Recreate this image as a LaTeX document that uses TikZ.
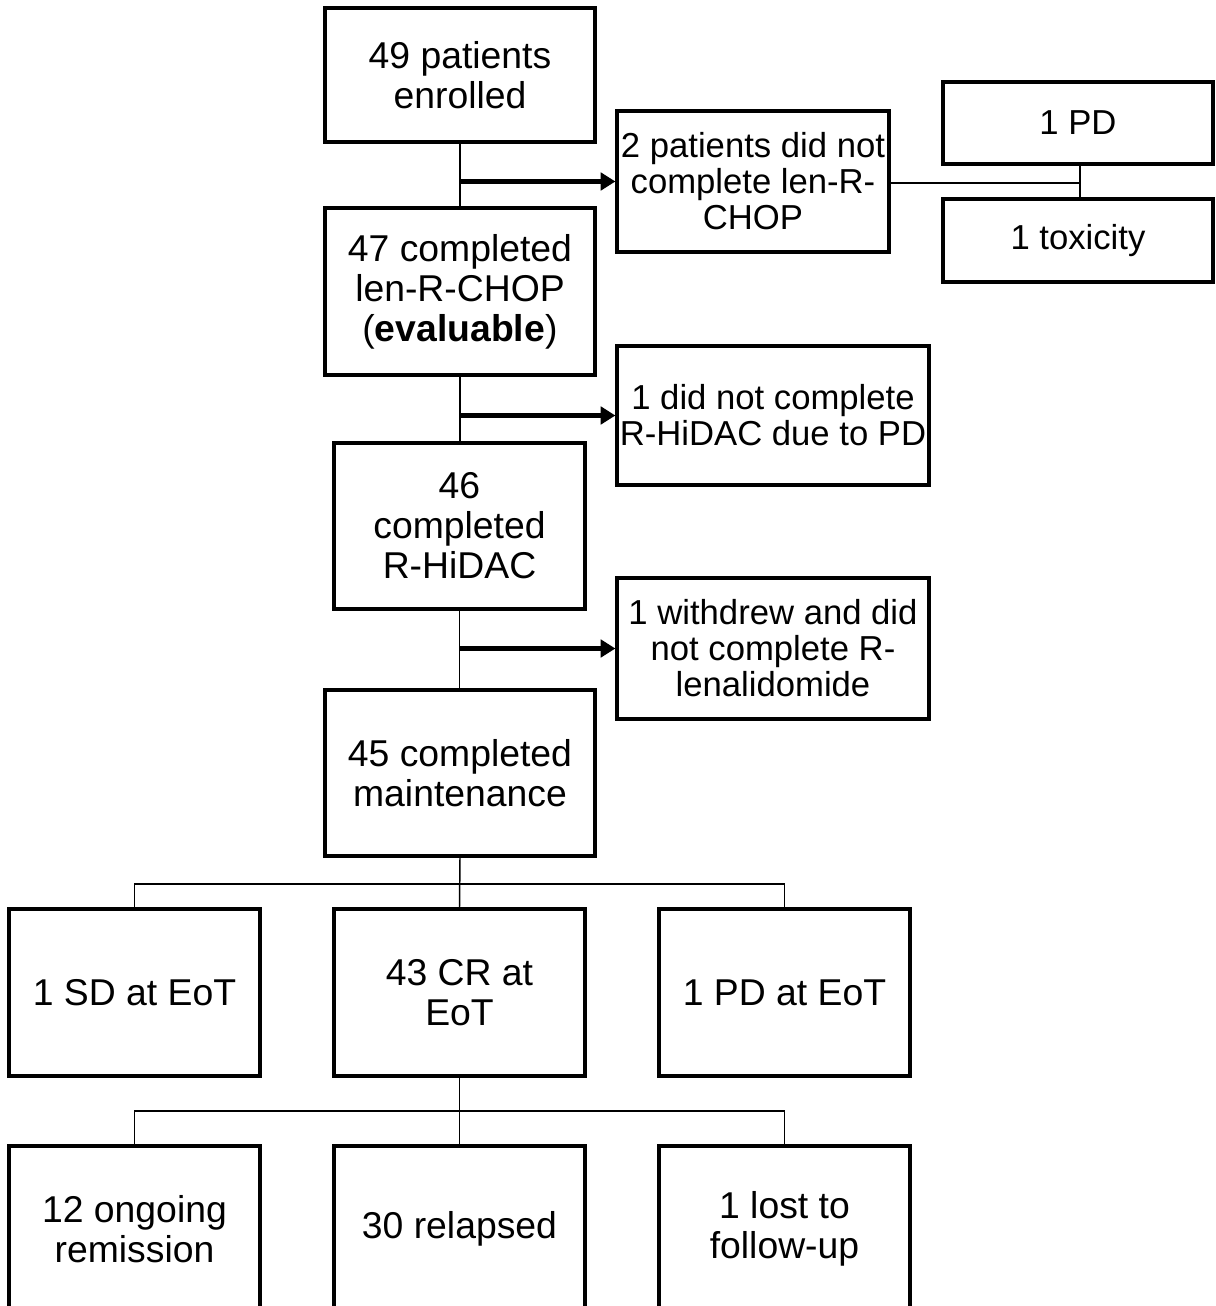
\documentclass[tikz,border=0pt]{standalone}
\usepackage{fontspec}
\setmainfont{Liberation Sans}
\usetikzlibrary{arrows.meta}
\newcommand\pxu{0.75pt}
\begin{document}
\begin{tikzpicture}[x=0.75pt,y=-0.75pt,
  box/.style={draw,line width=2.4pt,inner sep=0pt,align=center,font=\fontsize{28}{30}\selectfont},
  sidebox/.style={box,font=\fontsize{26}{27}\selectfont},
  link/.style={line width=1.1pt},
  push/.style={line width=3.5pt,-{Triangle[length=11pt,width=13pt]}}]
\clip (0,0) rectangle (1215,1306);
% main column
\node[box,minimum width=270*\pxu,minimum height=134*\pxu] (n49) at (460,75) {49 patients\\enrolled};
\node[box,minimum width=270*\pxu,minimum height=167*\pxu] (n47) at (460,291.5) {47 completed\\len-R-CHOP\\(\textbf{evaluable})};
\node[box,minimum width=251*\pxu,minimum height=166*\pxu] (n46) at (459.5,526) {46\\completed\\R-HiDAC};
\node[box,minimum width=270*\pxu,minimum height=166*\pxu] (n45) at (460,773) {45 completed\\maintenance};
% side boxes
\node[sidebox,minimum width=272*\pxu,minimum height=141*\pxu] (n2) at (753,181.5) {2 patients did not\\complete len-R-\\CHOP};
\node[sidebox,minimum width=270*\pxu,minimum height=82*\pxu] (pd1) at (1078,123) {1 PD};
\node[sidebox,minimum width=270*\pxu,minimum height=83*\pxu] (tox) at (1078,240.5) {1 toxicity};
\node[sidebox,minimum width=312*\pxu,minimum height=139*\pxu] (n1pd) at (773,415.5) {1 did not complete\\R-HiDAC due to PD};
\node[sidebox,minimum width=312*\pxu,minimum height=141*\pxu] (nw) at (773,648.5) {1 withdrew and did\\not complete R-\\lenalidomide};
% outcome row
\node[box,minimum width=251*\pxu,minimum height=167*\pxu] (sd) at (134.5,992.5) {1 SD at EoT};
\node[box,minimum width=251*\pxu,minimum height=167*\pxu] (cr) at (459.5,992.5) {43 CR at\\EoT};
\node[box,minimum width=251*\pxu,minimum height=167*\pxu] (pde) at (784.5,992.5) {1 PD at EoT};
% follow-up row
\node[box,minimum width=251*\pxu,minimum height=166*\pxu] (rem) at (134.5,1229) {12 ongoing\\remission};
\node[box,minimum width=251*\pxu,minimum height=166*\pxu] (rel) at (459.5,1229) {30 relapsed};
\node[box,minimum width=251*\pxu,minimum height=166*\pxu] (lost) at (784.5,1229) {1 lost to\\follow-up};
% trunk
\draw[link] (n49.south) -- (n47.north);
\draw[link] (n47.south) -- (n47.south |- n46.north);
\draw[link] (n46.south) -- (n46.south |- n45.north);
% side arrows
\draw[push] (n49.south |- n2.west) -- (n2.west);
\draw[push] (n47.south |- n1pd.west) -- (n1pd.west);
\draw[push] (n46.south |- nw.west) -- (nw.west);
% 2 patients split
\coordinate (s1) at (1080,183);
\draw[link] (n2.east |- s1) -- (s1);
\draw[link] (pd1.south -| s1) -- (tox.north -| s1);
% outcomes
\coordinate (j1) at (460,884);
\draw[link] (n45.south) -- (cr.north);
\draw[link] (sd.north) |- (j1) -| (pde.north);
\coordinate (j2) at (460,1111);
\draw[link] (cr.south) -- (rel.north);
\draw[link] (rem.north) |- (j2) -| (lost.north);
\end{tikzpicture}
\end{document}
